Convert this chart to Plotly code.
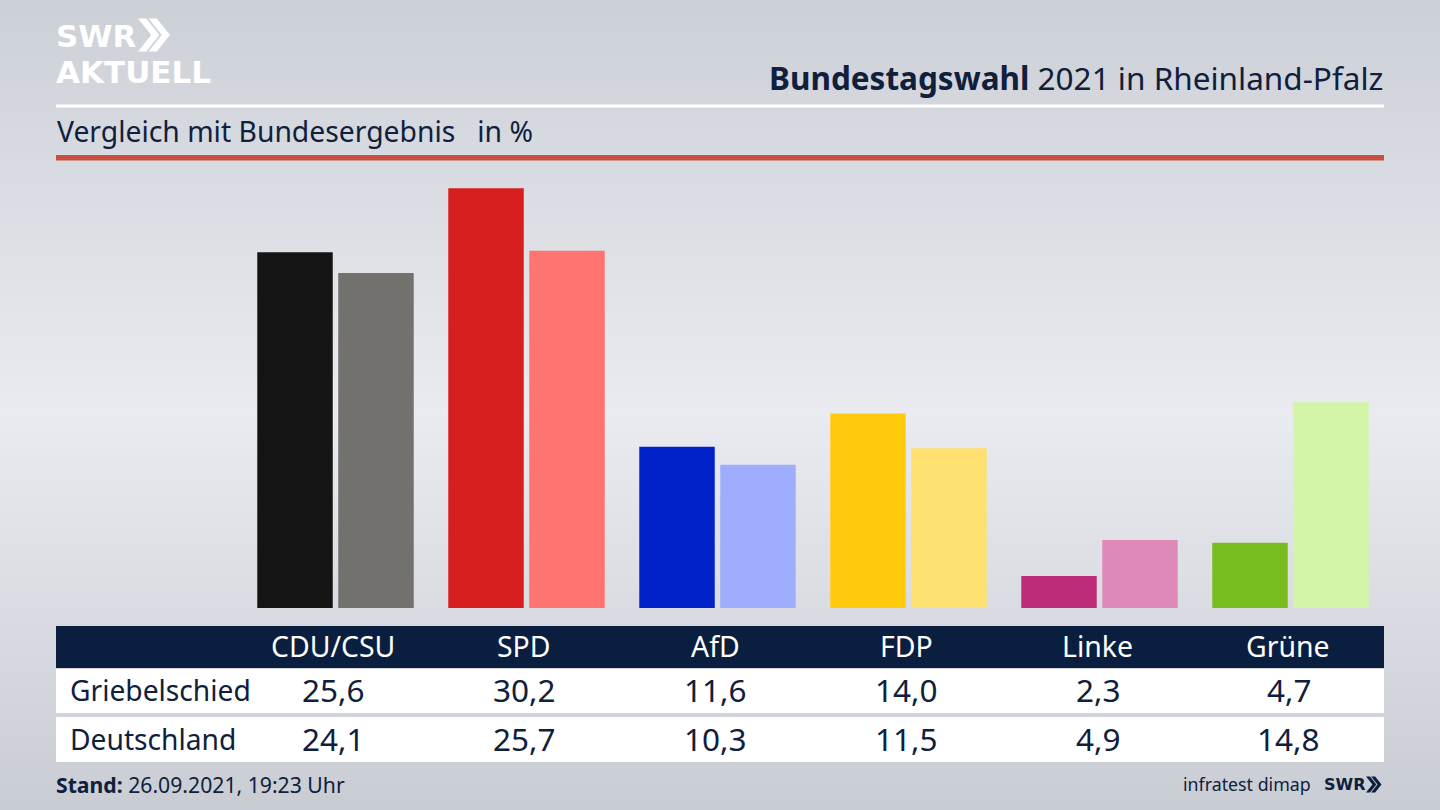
import plotly.graph_objects as go

parties = ["CDU/CSU", "SPD", "AfD", "FDP", "Linke", "Grüne"]
griebelschied = [25.6, 30.2, 11.6, 14.0, 2.3, 4.7]
deutschland = [24.1, 25.7, 10.3, 11.5, 4.9, 14.8]
colors_local = ["#141414", "#d71f1f", "#0022c8", "#ffcb0a", "#bc2c78", "#78bd1e"]
colors_national = ["#72716e", "#ff7370", "#9fadff", "#fee070", "#df89b8", "#d2f5a8"]
row_labels = ["Griebelschied", "Deutschland"]

W, H = 1440, 810
NAVY = "#0a1f3f"
TEXT = "#10203c"
FONT = "Noto Sans"
LOGO_FONT = "DejaVu Sans"


def px(x):
    return x / W


def py(y):
    return 1 - y / H


def mix(a, b, t):
    return "rgb(%d,%d,%d)" % tuple(round(a[i] + (b[i] - a[i]) * t) for i in range(3))


def rect(x0, y0, x1, y1, color, layer="below"):
    return dict(type="rect", xref="paper", yref="paper", x0=px(x0), x1=px(x1),
                y0=py(y0), y1=py(y1), fillcolor=color, line_width=0, layer=layer)


def chevrons(x, y, h, color):
    w = h * 0.40
    t = h * 0.25
    out = []
    for k in range(2):
        ox = x + k * (t + h * 0.07)
        path = (f"M {px(ox)} {py(y)} L {px(ox + t)} {py(y)} L {px(ox + t + w)} {py(y + h / 2)} "
                f"L {px(ox + t)} {py(y + h)} L {px(ox)} {py(y + h)} L {px(ox + w)} {py(y + h / 2)} Z")
        out.append(dict(type="path", xref="paper", yref="paper", path=path,
                        fillcolor=color, line_width=0, layer="below"))
    return out


top, mid, bottom = (204, 208, 215), (234, 235, 240), (200, 204, 211)
shapes = []
step = 6
for y in range(0, H, step):
    if y < 410:
        c = mix(top, mid, y / 410)
    else:
        c = mix(mid, bottom, (y - 410) / (H - 410))
    shapes.append(rect(0, y, W, y + step + 1, c))

shapes += [
    rect(56, 104.5, 1384, 107.5, "white"),
    rect(56, 155, 1384, 160.5, "#c9503e"),
    rect(56, 626, 1384, 668, NAVY),
    rect(56, 669, 1384, 713, "white"),
    rect(56, 717, 1384, 762, "white"),
]
shapes += chevrons(138, 18.5, 33, "white")
shapes += chevrons(1366, 776.5, 16, TEXT)


def label(x, y, text, size, color=TEXT, anchor="left", xref="paper", family=FONT, xshift=0):
    return dict(x=x if xref == "x" else px(x), y=py(y), xref=xref, yref="paper", text=text,
                showarrow=False, xanchor=anchor, yanchor="middle", borderpad=0, xshift=xshift,
                font=dict(family=family, size=size, color=color))


annotations = [
    label(1384, 77, "<b>Bundestagswahl</b> 2021 in Rheinland-Pfalz", 31.5, anchor="right"),
    label(55.5, 131.5, "Vergleich mit Bundesergebnis&nbsp;&nbsp; in %", 28.3),
    label(55, 36, "<b>SWR</b>", 31, "white", family=LOGO_FONT),
    label(55, 72, "<b>AKTUELL</b>", 31, "white", family=LOGO_FONT),
    label(69, 689.5, row_labels[0], 28.2),
    label(69, 738.5, row_labels[1], 28.2),
    label(55, 784, "<b>Stand:</b> 26.09.2021, 19:23 Uhr", 21.2),
    label(1312, 784, "infratest dimap", 17.8, anchor="right"),
    label(1323, 784, "<b>SWR</b>", 16, family=LOGO_FONT),
]
for i, party in enumerate(parties):
    annotations.append(label(party, 646, party, 28.4, "white", "center", "x", xshift=-2.5))
    annotations.append(label(party, 689.5, f"{griebelschied[i]:.1f}".replace(".", ","), 31.5, TEXT, "center", "x", xshift=-2))
    annotations.append(label(party, 738.5, f"{deutschland[i]:.1f}".replace(".", ","), 31.5, TEXT, "center", "x", xshift=-2))

fig = go.Figure()
fig.add_bar(x=parties, y=griebelschied, name=row_labels[0], marker=dict(color=colors_local, line_width=0))
fig.add_bar(x=parties, y=deutschland, name=row_labels[1], marker=dict(color=colors_national, line_width=0))

fig.update_layout(
    width=W, height=H, margin=dict(l=0, r=0, t=0, b=0, pad=0),
    barmode="group", bargap=0.152, bargroupgap=0.068,
    showlegend=False, paper_bgcolor="#e4e6eb", plot_bgcolor="rgba(0,0,0,0)",
    shapes=shapes, annotations=annotations, font=dict(family=FONT),
    xaxis=dict(domain=[px(240), px(1386)], showticklabels=False, showgrid=False, zeroline=False,
               showline=False, ticks="", fixedrange=True),
    yaxis=dict(domain=[py(608), py(170)], range=[0, 438 / 13.9], showticklabels=False, showgrid=False,
               zeroline=False, showline=False, ticks="", fixedrange=True),
)

fig.write_html("out.html", config=dict(displayModeBar=False),
               post_script="document.body.style.margin='0';")
